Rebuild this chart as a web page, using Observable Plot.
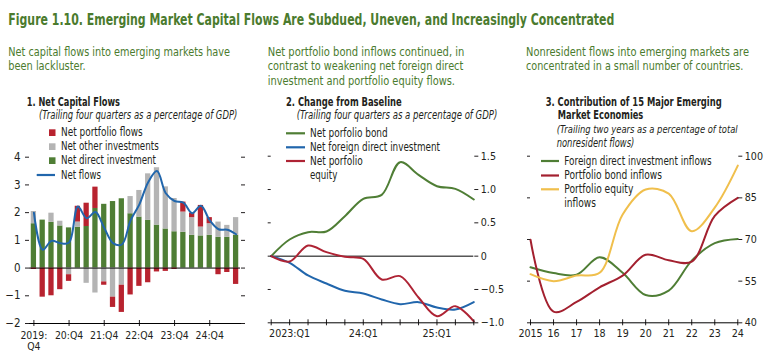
<!DOCTYPE html>
<html><head><meta charset="utf-8">
<script src="https://cdn.jsdelivr.net/npm/d3@7"></script>
<script src="https://cdn.jsdelivr.net/npm/@observablehq/plot@0.6"></script>
<style>
body{margin:0;background:#fff;}
#wrap{position:relative;width:773px;height:362px;overflow:hidden;background:#fff;}
#wrap svg{position:absolute;top:0;}
</style></head><body><div id="wrap"></div>
<script>
// ---------- Panel 1 data ----------
const quarters1 = ["2019Q4","2020Q1","2020Q2","2020Q3","2020Q4","2021Q1","2021Q2","2021Q3","2021Q4","2022Q1","2022Q2","2022Q3","2022Q4","2023Q1","2023Q2","2023Q3","2023Q4","2024Q1","2024Q2","2024Q3","2024Q4","2025Q1","2025Q2","2025Q3"];
const netDirect    = [1.60,1.73,1.65,1.52,1.45,1.47,1.50,2.15,2.30,2.40,2.50,1.96,1.84,1.72,1.55,1.41,1.31,1.29,1.18,1.16,1.18,1.11,1.11,1.18];
const netOther     = [0.44,0.00,0.33,0.17,-0.24,0.19,-0.55,-0.90,-0.50,-1.05,-0.62,0.62,0.96,1.68,2.07,1.52,1.20,0.73,0.64,0.32,0.42,0.55,0.43,0.64];
const netPortfolio = [-0.05,-1.05,-1.00,-0.78,-0.24,0.57,0.84,0.77,-0.12,-0.37,-0.98,-0.97,-0.66,-0.53,-0.14,-0.12,-0.05,0.36,0.16,0.78,0.22,-0.24,-0.16,-0.59];
const netFlows     = [2.00,0.66,0.98,0.90,0.92,2.22,1.80,2.02,1.45,0.90,0.85,1.72,2.30,3.10,3.50,2.70,2.42,2.36,1.98,2.25,1.72,1.40,1.38,1.22];
const series1 = ["Net direct investment","Net other investments","Net portfolio flows"];
const colors1 = ["#4f7e35","#b4b4b4","#b8232f"];
const xTicks1 = ["2019Q4","2020Q4","2021Q4","2022Q4","2023Q4","2024Q4"];
const xTickLabels1 = ["2019:\nQ4","20:Q4","21:Q4","22:Q4","23:Q4","24:Q4"];
const yTicks1 = [-2,-1,0,1,2,3,4];

// ---------- Panel 2 data ----------
const quarters2 = ["2022Q4","2023Q1","2023Q2","2023Q3","2023Q4","2024Q1","2024Q2","2024Q3","2024Q4","2025Q1","2025Q2","2025Q3"];
const bondChange   = [0,0.25,0.36,0.37,0.60,0.86,0.92,1.41,1.22,1.05,1.01,0.85];
const fdiChange    = [0,-0.10,-0.29,-0.41,-0.52,-0.56,-0.65,-0.72,-0.69,-0.77,-0.80,-0.69];
const equityChange = [0,-0.08,0.16,0.06,-0.01,-0.04,-0.35,-0.30,-0.62,-0.90,-0.75,-0.98];
const series2 = ["Net porfolio bond","Net foreign direct investment","Net porfolio equity"];
const colors2 = ["#4f7e35","#2166ac","#ae2334"];
const xTicks2 = ["2023Q1","2024Q1","2025Q1"];
const xTickLabels2 = ["2023:Q1","24:Q1","25:Q1"];
const yTicks2 = [-1,-0.5,0,0.5,1,1.5];
const yTickLabels2 = ["\u22121.0","\u22120.5","0","0.5","1.0","1.5"];

// ---------- Panel 3 data ----------
const years3 = [2015,2016,2017,2018,2019,2020,2021,2022,2023,2024];
const fdiInflows    = [60.0,57.9,57.3,63.6,58.0,50.0,51.6,62.4,68.7,70.2];
const bondInflows   = [69.9,44.0,47.5,52.8,57.0,64.5,62.5,62.0,78.5,85.0];
const equityInflows = [57.5,55.0,57.0,58.0,79.0,88.0,86.5,73.0,81.5,96.6];
const series3 = ["Foreign direct investment inflows","Portfolio bond inflows","Portfolio equity inflows"];
const colors3 = ["#4f7e35","#a3202f","#f0bf4c"];
const xTickLabels3 = ["2015","16","17","18","19","20","21","22","23","24"];
const yTicks3 = [40,55,70,85,100];

// ---------- styling ----------
const FONT = '"Liberation Sans Narrow","DejaVu Sans Condensed","Roboto Condensed","Liberation Sans",sans-serif';
const GREEN_TXT = "#4b7b2e";
const INK = "#231f20";
const wrap = document.getElementById("wrap");
const baseStyle = {fontFamily: FONT, fontSize: "10.6px", color: INK, background: "transparent", overflow: "visible"};
const minus = d => d < 0 ? "\u2212" + Math.abs(d) : String(d);

// ---------- Panel 1 ----------
const long1 = [];
quarters1.forEach((q, i) => {
  long1.push({q, series: series1[0], v: netDirect[i]});
  long1.push({q, series: series1[1], v: netOther[i]});
  long1.push({q, series: series1[2], v: netPortfolio[i]});
});
const line1 = quarters1.map((q, i) => ({q, v: netFlows[i]}));

const p1 = Plot.plot({
  width: 255, height: 362,
  marginLeft: 29, marginRight: 15, marginTop: 156.7, marginBottom: 39,
  style: {...baseStyle, fontSize: "11px"},
  x: {type: "band", domain: quarters1, paddingInner: 0.4, paddingOuter: 0.2, round: false},
  y: {domain: [-2, 4]},
  color: {domain: series1, range: colors1},
  marks: [
    Plot.barY(long1, {x: "q", y: "v", fill: "series"}),
    Plot.ruleY([0], {stroke: "#000", strokeWidth: 1}),
    Plot.line(line1, {x: "q", y: "v", stroke: "#2166ac", strokeWidth: 2, curve: "catmull-rom"}),
    Plot.axisY({anchor: "left", ticks: yTicks1, tickSize: 4, tickPadding: 5, tickFormat: minus, label: null, fontSize: 11.5}),
    Plot.axisY({anchor: "right", ticks: yTicks1, tickSize: 4, tickFormat: () => "", label: null}),
    Plot.axisX({ticks: xTicks1, tickSize: 6, dy: -3, tickFormat: () => "", label: null}),
    Plot.axisX({ticks: xTicks1, tickSize: 0, tickPadding: 7, tickFormat: d => xTickLabels1[xTicks1.indexOf(d)], label: null, lineHeight: 1.1, fontSize: 10.4}),
    Plot.frame({anchor: "bottom", stroke: "#000"})
  ]
});
p1.style.left = "0px";
wrap.appendChild(p1);

// ---------- Panel 2 ----------
const long2 = [];
quarters2.forEach((q, i) => {
  long2.push({q, series: series2[0], v: bondChange[i]});
  long2.push({q, series: series2[1], v: fdiChange[i]});
  long2.push({q, series: series2[2], v: equityChange[i]});
});
const p2 = Plot.plot({
  width: 255, height: 362,
  marginLeft: 10.7, marginRight: 41.7, marginTop: 155.7, marginBottom: 39.7,
  style: baseStyle,
  x: {type: "point", domain: quarters2, padding: 0, round: false},
  y: {domain: [-1, 1.5]},
  color: {domain: series2, range: colors2},
  marks: [
    Plot.ruleY([0], {stroke: "#000", strokeWidth: 1}),
    Plot.line(long2, {x: "q", y: "v", z: "series", stroke: "series", strokeWidth: 2, curve: "catmull-rom"}),
    Plot.axisY({anchor: "left", ticks: yTicks2, tickSize: 3, tickFormat: () => "", label: null}),
    Plot.axisY({anchor: "right", ticks: yTicks2, tickSize: 4, tickPadding: 3, tickFormat: d => yTickLabels2[yTicks2.indexOf(d)], label: null}),
    Plot.axisX({ticks: quarters2, tickSize: 6, dy: -3, tickFormat: () => "", label: null}),
    Plot.axisX({ticks: xTicks2, tickSize: 0, tickPadding: 7, tickFormat: d => xTickLabels2[xTicks2.indexOf(d)], label: null}),
    Plot.frame({anchor: "bottom", stroke: "#000"})
  ]
});
p2.style.left = "260px";
wrap.appendChild(p2);

// ---------- Panel 3 ----------
const long3 = [];
years3.forEach((y, i) => {
  long3.push({yr: y, series: series3[0], v: fdiInflows[i]});
  long3.push({yr: y, series: series3[1], v: bondInflows[i]});
  long3.push({yr: y, series: series3[2], v: equityInflows[i]});
});
const p3 = Plot.plot({
  width: 258, height: 362,
  marginLeft: 15, marginRight: 35.7, marginTop: 155.7, marginBottom: 39.7,
  style: baseStyle,
  x: {domain: [2015, 2024]},
  y: {domain: [40, 100]},
  color: {domain: series3, range: colors3},
  marks: [
    Plot.line(long3, {x: "yr", y: "v", z: "series", stroke: "series", strokeWidth: 2, curve: "catmull-rom"}),
    Plot.axisY({anchor: "left", ticks: yTicks3, tickSize: 3, tickFormat: () => "", label: null}),
    Plot.axisY({anchor: "right", ticks: yTicks3, tickSize: 4, tickPadding: 3, tickFormat: d => String(d), label: null}),
    Plot.axisX({ticks: years3, tickSize: 6, dy: -3, tickFormat: () => "", label: null}),
    Plot.axisX({ticks: years3, tickSize: 0, tickPadding: 7, tickFormat: d => xTickLabels3[years3.indexOf(d)], label: null}),
    Plot.frame({anchor: "bottom", stroke: "#000"})
  ]
});
p3.style.left = "515px";
wrap.appendChild(p3);

// ---------- Text overlay (titles, notes, legends) ----------
const ov = d3.select(wrap).append("svg").attr("width", 773).attr("height", 362).style("left", "0px");
function T(x, y, w, str, o = {}) {
  ov.append("text").attr("x", x).attr("y", y)
    .attr("textLength", w).attr("lengthAdjust", "spacingAndGlyphs")
    .attr("font-family", FONT).attr("font-size", o.size || 12)
    .attr("font-weight", o.weight || "normal").attr("font-style", o.style || "normal")
    .attr("fill", o.fill || INK).text(str);
}
// main title
T(8.3, 25, 606, "Figure 1.10. Emerging Market Capital Flows Are Subdued, Uneven, and Increasingly Concentrated", {size: 15, weight: "bold", fill: GREEN_TXT});
// notes
const sub = {size: 12.5, fill: GREEN_TXT};
const sub3 = {size: 11.9, fill: GREEN_TXT};
T(8.3, 56, 221.7, "Net capital flows into emerging markets have", sub);
T(8.3, 70.3, 77.4, "been lackluster.", sub);
T(267.7, 56, 196.6, "Net portfolio bond inflows continued, in", sub);
T(267.7, 70.3, 195.6, "contrast to weakening net foreign direct", sub);
T(267.7, 84.6, 187.3, "investment and portfolio equity flows.", sub);
T(526, 56, 223, "Nonresident flows into emerging markets are", sub3);
T(526, 70.3, 217.3, "concentrated in a small number of countries.", sub3);
// panel titles
const pt = {size: 12, weight: "bold"};
const it = {size: 11.5, style: "italic"};
T(26.7, 105.7, 93.3, "1. Net Capital Flows", pt);
T(39, 119.3, 198.3, "(Trailing four quarters as a percentage of GDP)", it);
T(286, 105.7, 115.7, "2. Change from Baseline", pt);
T(296.7, 119.3, 200.6, "(Trailing four quarters as a percentage of GDP)", it);
T(545.7, 105.7, 176, "3. Contribution of 15 Major Emerging", pt);
T(557.7, 119, 85.6, "Market Economies", pt);
T(556.7, 133.3, 181, "(Trailing two years as a percentage of total", {size: 11, style: "italic"});
T(556.7, 146.7, 77.6, "nonresident flows)", it);

// legend panel 1
const lg = {size: 11.8};
[[series1[2], colors1[2], 129.3, 136.3, 81.7], [series1[1], colors1[1], 143.3, 150.3, 97.7], [series1[0], colors1[0], 157.3, 164.3, 95]].forEach(([name, c, ry, by, w]) => {
  ov.append("rect").attr("x", 49).attr("y", ry).attr("width", 6.5).attr("height", 6.7).attr("fill", c);
  T(61, by, w, name, lg);
});
ov.append("line").attr("x1", 36.7).attr("x2", 55).attr("y1", 175).attr("y2", 175).attr("stroke", "#2166ac").attr("stroke-width", 2.2);
T(61, 178.5, 40, "Net flows", lg);

// legend panel 2
[[colors2[0], 133.3], [colors2[1], 147.3], [colors2[2], 161]].forEach(([c, y]) => {
  ov.append("line").attr("x1", 286).attr("x2", 305).attr("y1", y).attr("y2", y).attr("stroke", c).attr("stroke-width", 2.2);
});
T(310, 137.3, 77.7, "Net porfolio bond", lg);
T(310, 151.3, 130, "Net foreign direct investment", lg);
T(310, 165, 52.7, "Net porfolio", lg);
T(310, 178.7, 27.3, "equity", lg);

// legend panel 3
[[colors3[0], 161], [colors3[1], 175.5], [colors3[2], 189.3]].forEach(([c, y]) => {
  ov.append("line").attr("x1", 541).attr("x2", 559).attr("y1", y).attr("y2", y).attr("stroke", c).attr("stroke-width", 2.2);
});
T(564.3, 165, 147.4, "Foreign direct investment inflows", lg);
T(564.3, 179, 97.7, "Portfolio bond inflows", lg);
T(564.3, 193, 69, "Portfolio equity", lg);
T(564.3, 206.5, 31.7, "inflows", lg);
</script>
</body></html>
